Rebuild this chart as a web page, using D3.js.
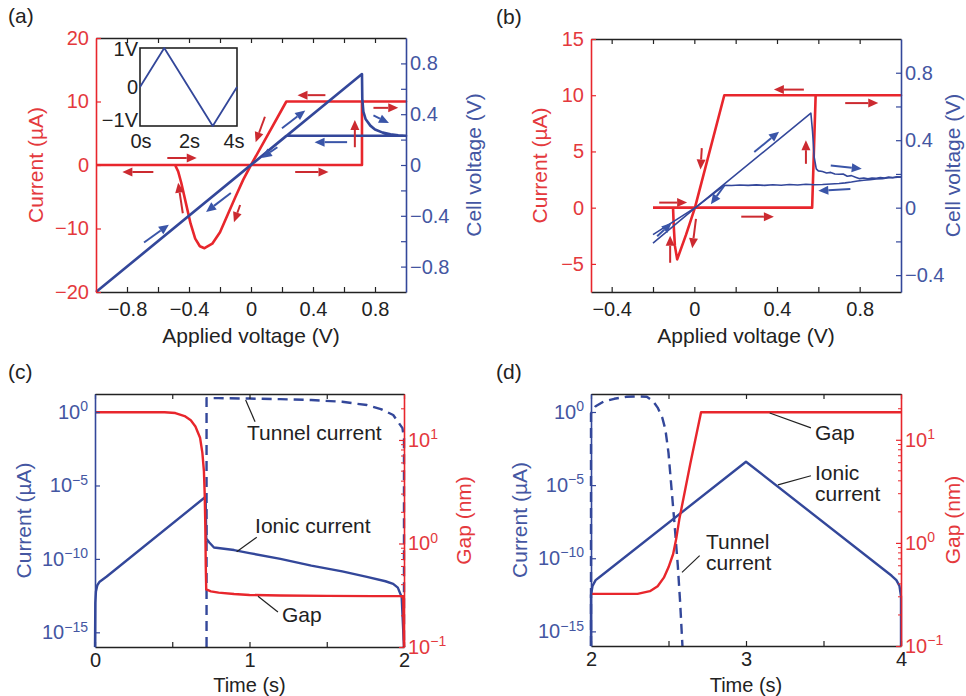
<!DOCTYPE html>
<html>
<head>
<meta charset="utf-8">
<script src="https://cdn.jsdelivr.net/npm/d3@7"></script>
<style>
  body { margin: 0; background: #fff; }
  svg { font-family: "Liberation Sans", Arial, sans-serif; }
</style>
</head>
<body>
<script>
// ---------- data ----------
// (a) current (uA) and cell voltage (V) vs applied voltage (V)
const aRedV  = [-1, 0.716, 0.716, 1, 0.228, 0, -0.05, -0.1, -0.15, -0.2, -0.25, -0.3, -0.33, -0.36, -0.39, -0.42, -0.45, -0.47, -0.49, -1];
const aRedI  = [0, 0, 10, 10, 10, 0, -2.3, -5, -7.8, -10.6, -12.4, -13.1, -12.8, -11.6, -9.2, -6, -2.8, -1, 0, 0];
const aBlueV = [-1, 0.716, 0.718, 0.725, 0.74, 0.77, 0.8, 0.85, 0.9, 0.95, 1, 0.228, -1];
const aBlueU = [-1, 0.716, 0.52, 0.42, 0.36, 0.31, 0.28, 0.255, 0.242, 0.234, 0.23, 0.23, -1];
const aRedArrows = [[0.48, 11, 0.30, 11], [0.79, 9, 0.95, 9], [0.67, 2.8, 0.67, 7.1], [0.285, -1.1, 0.5, -1.1],
  [-0.63, -1.1, -0.83, -1.1], [-0.54, 1.1, -0.35, 1.1], [-0.44, -7.6, -0.47, -2.8], [-0.07, -6.3, -0.11, -9.0], [0.09, 7.6, 0.03, 3.6]];
const aBlueArrows = [[0.2, 0.29, 0.35, 0.43], [0.17, 0.14, 0.07, 0.055], [0.62, 0.18, 0.41, 0.18],
  [0.79, 0.39, 0.89, 0.33], [-0.13, -0.22, -0.29, -0.37], [-0.69, -0.61, -0.53, -0.47]];
// inset: applied voltage waveform
const insetT = [0, 1, 3, 4];
const insetV = [0, 1, -1, 0];

// (b) measured
const bRedV = [-0.2, 0.57, 0.587, 1, 0.145, 0.003, -0.04, -0.083, -0.094, -0.1, -0.103, -0.2];
const bRedI = [0, 0, 10, 10, 10, 0, -2.4, -4.6, -3.4, -1.5, 0, 0];
const bBlueFwdV = [-0.2, 0.01, 0.564, 0.572, 0.58, 0.59, 0.6, 0.62, 0.64, 0.66, 0.68, 0.7, 0.72, 0.74, 0.76, 0.78, 0.8, 0.82, 0.84, 0.86, 0.88, 0.9, 0.92, 0.94, 0.96, 0.98, 1.0];
const bBlueFwdU = [-0.16, 0.005, 0.56, 0.45, 0.3, 0.23, 0.218, 0.214, 0.206, 0.209, 0.2, 0.198, 0.2, 0.186, 0.19, 0.18, 0.172, 0.176, 0.171, 0.176, 0.174, 0.178, 0.176, 0.181, 0.178, 0.183, 0.182];
const bBlueRetV = [1.0, 0.97, 0.94, 0.91, 0.88, 0.85, 0.82, 0.79, 0.76, 0.73, 0.7, 0.66, 0.62, 0.58, 0.54, 0.5, 0.46, 0.42, 0.38, 0.34, 0.3, 0.26, 0.22, 0.18, 0.145, 0.01, -0.2];
const bBlueRetU = [0.182, 0.179, 0.177, 0.172, 0.17, 0.166, 0.163, 0.158, 0.152, 0.147, 0.143, 0.14, 0.137, 0.136, 0.139, 0.134, 0.137, 0.133, 0.136, 0.132, 0.135, 0.132, 0.134, 0.131, 0.132, 0.005, -0.21];
const bRedArrows = [[0.53, 10.5, 0.385, 10.5], [0.73, 9.3, 0.89, 9.3], [0.54, 3.9, 0.54, 6.0], [0.227, -0.8, 0.385, -0.8],
  [-0.17, 0.45, -0.035, 0.45], [0.036, 5.3, 0.03, 3.4], [0.008, -1.0, -0.01, -3.6], [-0.117, -4.9, -0.117, -2.5]];
const bBlueArrows = [[0.29, 0.33, 0.41, 0.45], [0.145, 0.13, 0.08, 0.02], [0.66, 0.25, 0.81, 0.23],
  [0.755, 0.11, 0.6, 0.10], [-0.18, -0.17, -0.11, -0.09]];

// (c) SET simulation, 0-2 s
const cGapT  = [0, 0.45, 0.52, 0.58, 0.62, 0.65, 0.68, 0.695, 0.705, 0.71, 0.714, 0.717, 0.72, 0.75, 0.8, 0.9, 1.0, 1.2, 1.5, 1.8, 1.995, 2.0];
const cGapNm = [18.5, 18.5, 18.2, 17, 15.5, 13.5, 10.5, 7.5, 5, 3, 1.5, 0.6, 0.36, 0.345, 0.335, 0.325, 0.318, 0.314, 0.312, 0.31, 0.31, 0.1];
const cIonT  = [0, 0.002, 0.006, 0.015, 0.03, 0.076, 0.716, 0.72, 0.74, 0.77, 0.9, 1.0, 1.2, 1.4, 1.6, 1.76, 1.88, 1.93, 1.96, 1.985, 2.0];
const cIonA  = [1e-16, 1e-13, 6e-13, 1.6e-12, 2.8e-12, 6.3e-12, 1.7e-6, 2.5e-9, 1.3e-9, 6e-10, 4e-10, 2.5e-10, 1e-10, 3.5e-11, 1.4e-11, 6e-12, 3e-12, 2e-12, 1.1e-12, 2.5e-13, 1e-16];
const cTunT  = [0.722, 0.722, 0.8, 1.0, 1.2, 1.4, 1.6, 1.76, 1.85, 1.93, 1.99, 2.0, 2.0];
const cTunA  = [1e-16, 8.9, 8.9, 8.3, 7.6, 6.6, 5, 3, 1.6, 0.63, 0.08, 0.016, 1e-16];

// (d) RESET simulation, 2-4 s
const dGapT  = [2, 2.3, 2.38, 2.43, 2.47, 2.5, 2.53, 2.55, 2.57, 2.64, 2.71, 4];
const dGapNm = [0.32, 0.32, 0.34, 0.38, 0.46, 0.58, 0.78, 1.1, 1.7, 5.8, 18.5, 18.5];
const dIonT  = [2, 2, 2.01, 2.03, 2.06, 3, 3.94, 3.97, 3.99, 4, 4];
const dIonA  = [1e-16, 3e-13, 1.3e-12, 3.2e-12, 5.6e-12, 4e-4, 6.3e-12, 3.2e-12, 1.3e-12, 2.5e-13, 1e-16];
const dTunT  = [2, 2, 2.03, 2.08, 2.15, 2.23, 2.3, 2.36, 2.4, 2.43, 2.46, 2.48, 2.5, 2.52, 2.54, 2.56, 2.575, 2.59];
const dTunA  = [1e-16, 0.8, 2.5, 5, 8, 11, 11.7, 11, 5.6, 2, 0.4, 0.063, 1.6e-3, 5e-6, 1.6e-8, 3.2e-11, 1e-13, 1e-16];

// ticks
const aXTicks = [-0.8, -0.6, -0.4, -0.2, 0, 0.2, 0.4, 0.6, 0.8];
const aILTicks = [-20, -10, 0, 10, 20];
const aURTicks = [-0.8, -0.6, -0.4, -0.2, 0, 0.2, 0.4, 0.6, 0.8];
const bXTicks = [-0.4, -0.2, 0, 0.2, 0.4, 0.6, 0.8];
const bILTicks = [-5, 0, 5, 10, 15];
const bURTicks = [-0.4, -0.2, 0, 0.2, 0.4, 0.6, 0.8];
const cXTicks = [0, 0.5, 1, 1.5, 2];
const dXTicks = [2, 2.5, 3, 3.5, 4];
const currentTicks = [1e-15, 1e-10, 1e-5, 1];
const gapTicks = [0.1, 1, 10];
const gapMinor = [0.2, 0.3, 0.4, 0.5, 0.6, 0.7, 0.8, 0.9, 2, 3, 4, 5, 6, 7, 8, 9, 20];

// ---------- style ----------
const RED = "#e8262c", BLUE = "#33479a";
const RED_T = "#e4393d", BLUE_T = "#4456a2";
const RED_A = "#cc2a30", BLUE_A = "#3a55a8";
const FONT = "Liberation Sans, Arial, sans-serif";

const svg = d3.select("body").append("svg")
  .attr("width", 966).attr("height", 696);

const minus = d => (d < 0 ? "\u2212" : "") + Math.abs(d);
const every = (step) => d => (Math.abs(Math.round(d / step) * step - d) < 1e-9 ? minus(+d.toFixed(2)) : "");
const pow10 = function (d) {
  const e = Math.round(Math.log10(d));
  const t = d3.select(this).text("10");
  t.append("tspan").attr("dy", "-0.55em").attr("font-size", 14).text(minus(e));
};

function styleAxis(g, color, textColor) {
  g.attr("font-size", 20).attr("font-family", FONT);
  g.select(".domain").attr("stroke", color).attr("stroke-width", 1.6);
  g.selectAll(".tick line").attr("stroke", color).attr("stroke-width", 1.2);
  g.selectAll(".tick text").attr("fill", textColor);
}

function drawAxes(x, yL, yR, o) {
  const [y0, y1] = yL.range();
  const [x0, x1] = x.range();
  // top
  const top = svg.append("g").attr("transform", `translate(0,${y1})`)
    .call(d3.axisTop(x).tickValues(o.xTicks).tickFormat("").tickSize(-5).tickSizeOuter(0));
  styleAxis(top, "#222", "#222");
  // bottom
  const bot = svg.append("g").attr("transform", `translate(0,${y0})`)
    .call(d3.axisBottom(x).tickValues(o.xTicks).tickFormat(o.xFmt).tickSize(-5).tickSizeOuter(0).tickPadding(o.xPad));
  styleAxis(bot, "#222", "#222");
  // left
  const left = svg.append("g").attr("transform", `translate(${x0},0)`)
    .call(d3.axisLeft(yL).tickValues(o.yLTicks).tickFormat(o.yLFmt).tickSize(-5).tickSizeOuter(0).tickPadding(7));
  styleAxis(left, o.lColor, o.lText);
  if (o.logL) left.selectAll(".tick text").each(pow10);
  // right
  const right = svg.append("g").attr("transform", `translate(${x1},0)`)
    .call(d3.axisRight(yR).tickValues(o.yRTicks).tickFormat(o.yRFmt).tickSize(-5).tickSizeOuter(0).tickPadding(4));
  styleAxis(right, o.rColor, o.rText);
  if (o.logR) {
    right.selectAll(".tick text").each(pow10);
    right.selectAll(".minor").data(gapMinor).join("line")
      .attr("x1", 0).attr("x2", -3)
      .attr("y1", d => yR(d)).attr("y2", d => yR(d))
      .attr("stroke", o.rColor).attr("stroke-width", 1);
  }
  // titles
  const cy = (y0 + y1) / 2;
  svg.append("text").attr("transform", `translate(${o.lTitleX},${cy}) rotate(-90)`)
    .attr("text-anchor", "middle").attr("font-size", 21).attr("fill", o.lText).text(o.lTitle);
  svg.append("text").attr("transform", `translate(${o.rTitleX},${cy}) rotate(-90)`)
    .attr("text-anchor", "middle").attr("font-size", 21).attr("fill", o.rText).text(o.rTitle);
  svg.append("text").attr("x", (x0 + x1) / 2).attr("y", y0 + o.xTitleDy)
    .attr("text-anchor", "middle").attr("font-size", o.xTitleSize).attr("fill", "#222").text(o.xTitle);
  svg.append("text").attr("x", o.tagX).attr("y", y1 - 15)
    .attr("font-size", 21).attr("fill", "#222").text(o.tag);
}

function path(x, y, xs, ys, color, width, dash) {
  const line = d3.line().x(d => x(d[0])).y(d => y(d[1]));
  svg.append("path").datum(d3.zip(xs, ys)).attr("d", line)
    .attr("fill", "none").attr("stroke", color).attr("stroke-width", width)
    .attr("stroke-linejoin", "round")
    .attr("stroke-dasharray", dash || null);
}

function arrows(x, y, list, color) {
  const hl = 10, hw = 4.5;
  list.forEach(([a, b, c, d]) => {
    const x1 = x(a), y1 = y(b), x2 = x(c), y2 = y(d);
    const ang = Math.atan2(y2 - y1, x2 - x1);
    const bx = x2 - hl * Math.cos(ang), by = y2 - hl * Math.sin(ang);
    svg.append("line").attr("x1", x1).attr("y1", y1).attr("x2", bx).attr("y2", by)
      .attr("stroke", color).attr("stroke-width", 2);
    svg.append("path")
      .attr("d", `M${x2},${y2}L${bx + hw * Math.sin(ang)},${by - hw * Math.cos(ang)}L${bx - hw * Math.sin(ang)},${by + hw * Math.cos(ang)}Z`)
      .attr("fill", color);
  });
}

function note(x, y, lines, tx, ty, from, to) {
  svg.append("line")
    .attr("x1", x(from[0])).attr("y1", y(from[1])).attr("x2", x(to[0])).attr("y2", y(to[1]))
    .attr("stroke", "#222").attr("stroke-width", 1.2);
  lines.forEach((s, i) => {
    svg.append("text").attr("x", x(tx)).attr("y", y(ty) + i * 21)
      .attr("font-size", 21).attr("fill", "#222").text(s);
  });
}

// ---------- panel (a) ----------
{
  const x = d3.scaleLinear().domain([-1, 1]).range([96, 406]);
  const yL = d3.scaleLinear().domain([-20, 20]).range([292, 38]);
  const yR = d3.scaleLinear().domain([-1, 1]).range([292, 38]);
  path(x, yL, aRedV, aRedI, RED, 2.6);
  path(x, yR, aBlueV, aBlueU, BLUE, 2.6);
  arrows(x, yL, aRedArrows, RED_A);
  arrows(x, yR, aBlueArrows, BLUE_A);

  // inset
  const ix = d3.scaleLinear().domain([0, 4]).range([140, 237]);
  const iy = d3.scaleLinear().domain([-1, 1]).range([126, 48]);
  svg.append("rect").attr("x", 140).attr("y", 48).attr("width", 97).attr("height", 78)
    .attr("fill", "#fff").attr("stroke", "#222").attr("stroke-width", 1.6);
  path(ix, iy, insetT, insetV, BLUE, 1.8);
  [["1V", 1, 8], ["0", 0, 7], ["\u22121V", -1, 1]].forEach(([s, v, dy]) => {
    svg.append("text").attr("x", 138).attr("y", iy(v) + dy).attr("text-anchor", "end")
      .attr("font-size", 20).attr("fill", "#222").text(s);
  });
  [["0s", 0], ["2s", 2], ["4s", 4]].forEach(([s, t]) => {
    svg.append("text").attr("x", ix(t) + (t === 4 ? -3 : 1)).attr("y", 148).attr("text-anchor", "middle")
      .attr("font-size", 20).attr("fill", "#222").text(s);
  });

  drawAxes(x, yL, yR, {
    xTicks: aXTicks, xFmt: every(0.4), xPad: 10, yLTicks: aILTicks, yLFmt: minus,
    yRTicks: aURTicks, yRFmt: every(0.4),
    lColor: RED, lText: RED_T, rColor: BLUE, rText: BLUE_T,
    lTitle: "Current (\u00b5A)", rTitle: "Cell voltage (V)", xTitle: "Applied voltage (V)",
    lTitleX: 43, rTitleX: 481, xTitleDy: 51, xTitleSize: 21, tagX: 8, tag: "(a)"
  });
}

// ---------- panel (b) ----------
{
  const x = d3.scaleLinear().domain([-0.5, 1]).range([591, 901]);
  const yL = d3.scaleLinear().domain([-7.5, 15]).range([292, 39]);
  const yR = d3.scaleLinear().domain([-0.5, 1]).range([292, 39]);
  path(x, yL, bRedV, bRedI, RED, 2.6);
  path(x, yR, bBlueFwdV, bBlueFwdU, BLUE, 1.6);
  path(x, yR, bBlueRetV, bBlueRetU, BLUE, 1.6);
  arrows(x, yL, bRedArrows, RED_A);
  arrows(x, yR, bBlueArrows, BLUE_A);
  drawAxes(x, yL, yR, {
    xTicks: bXTicks, xFmt: every(0.4), xPad: 10, yLTicks: bILTicks, yLFmt: minus,
    yRTicks: bURTicks, yRFmt: every(0.4),
    lColor: RED, lText: RED_T, rColor: BLUE, rText: BLUE_T,
    lTitle: "Current (\u00b5A)", rTitle: "Cell voltage (V)", xTitle: "Applied voltage (V)",
    lTitleX: 547, rTitleX: 960, xTitleDy: 51, xTitleSize: 21, tagX: 496, tag: "(b)"
  });
}

// ---------- panel (c) ----------
{
  const x = d3.scaleLinear().domain([0, 2]).range([95, 404]);
  const yL = d3.scaleLog().domain([1e-16, 17]).range([647, 394]);
  const yR = d3.scaleLog().domain([0.1, 27.8]).range([647, 394]);
  path(x, yL, cIonT, cIonA, BLUE, 2.4);
  path(x, yL, cTunT, cTunA, BLUE, 2.4, "10,6");
  path(x, yR, cGapT, cGapNm, RED, 2.4);
  note(x, yL, ["Tunnel current"], 0.984, 10 ** -1.91, [0.975, 10 ** 0.82], [1.036, 10 ** -0.66]);
  note(x, yL, ["Ionic current"], 1.036, 10 ** -8.25, [1.047, 10 ** -8.52], [0.917, 10 ** -9.52]);
  note(x, yL, ["Gap"], 1.21, 10 ** -14.3, [1.184, 10 ** -13.61], [1.055, 10 ** -12.54]);
  drawAxes(x, yL, yR, {
    xTicks: cXTicks, xFmt: every(1), xPad: 6, yLTicks: currentTicks, yLFmt: d => d, logL: true,
    yRTicks: gapTicks, yRFmt: d => d, logR: true,
    lColor: BLUE, lText: BLUE_T, rColor: RED, rText: RED_T,
    lTitle: "Current (\u00b5A)", rTitle: "Gap (nm)", xTitle: "Time (s)",
    lTitleX: 31, rTitleX: 471, xTitleDy: 45, xTitleSize: 20, tagX: 8, tag: "(c)"
  });
}

// ---------- panel (d) ----------
{
  const x = d3.scaleLinear().domain([2, 4]).range([591, 901]);
  const yL = d3.scaleLog().domain([1e-16, 17]).range([646, 394]);
  const yR = d3.scaleLog().domain([0.1, 27.8]).range([646, 394]);
  path(x, yL, dIonT, dIonA, BLUE, 2.4);
  path(x, yL, dTunT, dTunA, BLUE, 2.4, "10,6");
  path(x, yR, dGapT, dGapNm, RED, 2.4);
  note(x, yL, ["Gap"], 3.445, 10 ** -1.91, [3.153, 10 ** -0.07], [3.419, 10 ** -1.09]);
  note(x, yL, ["Ionic", "current"], 3.445, 10 ** -4.64, [3.419, 10 ** -4.36], [3.206, 10 ** -4.98]);
  note(x, yL, ["Tunnel", "current"], 2.742, 10 ** -9.34, [2.587, 10 ** -10.97], [2.701, 10 ** -9.82]);
  drawAxes(x, yL, yR, {
    xTicks: dXTicks, xFmt: every(1), xPad: 6, yLTicks: currentTicks, yLFmt: d => d, logL: true,
    yRTicks: gapTicks, yRFmt: d => d, logR: true,
    lColor: BLUE, lText: BLUE_T, rColor: RED, rText: RED_T,
    lTitle: "Current (\u00b5A)", rTitle: "Gap (nm)", xTitle: "Time (s)",
    lTitleX: 527, rTitleX: 960, xTitleDy: 46, xTitleSize: 20, tagX: 496, tag: "(d)"
  });
}
</script>
</body>
</html>
